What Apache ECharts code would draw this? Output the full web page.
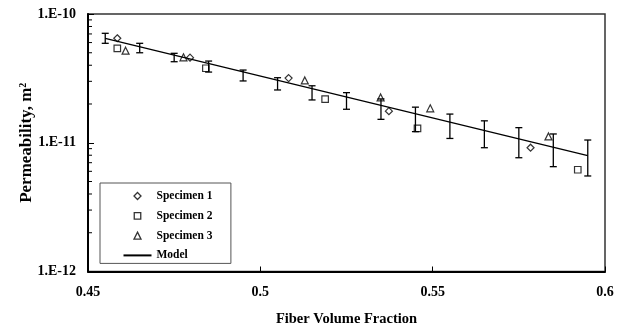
<!DOCTYPE html>
<html><head><meta charset="utf-8">
<script src="https://cdn.jsdelivr.net/npm/echarts@6/dist/echarts.min.js"></script>
<style>html,body{margin:0;padding:0;background:#fff}#c{width:629px;height:332px}</style>
</head><body><div id="c"></div>
<script>
// ---- data ----
const xTickLabels = ['0.45', '0.5', '0.55', '0.6'];
const yTickLabels = ['1.E-12', '1.E-11', '1.E-10'];
const yMinorTicks = [2e-12, 3e-12, 4e-12, 5e-12, 6e-12, 7e-12, 8e-12, 9e-12,
                     2e-11, 3e-11, 4e-11, 5e-11, 6e-11, 7e-11, 8e-11, 9e-11];

const specimen1 = [[0.4585, 6.48e-11], [0.4796, 4.58e-11], [0.5082, 3.18e-11], [0.5373, 1.76e-11], [0.5784, 9.15e-12]];
const specimen2 = [[0.4585, 5.41e-11], [0.4842, 3.79e-11], [0.5188, 2.18e-11], [0.5456, 1.295e-11], [0.5921, 6.17e-12]];
const specimen3 = [[0.4609, 5.19e-11], [0.4777, 4.61e-11], [0.5129, 3.05e-11], [0.5349, 2.25e-11], [0.5493, 1.85e-11], [0.5836, 1.12e-11]];
const modelLine = [[0.455, 6.48e-11], [0.595, 7.93e-12]];

const errX    = [0.455, 0.465, 0.475, 0.485, 0.495, 0.505, 0.515, 0.525, 0.535, 0.545, 0.555, 0.565, 0.575, 0.585, 0.595];
const errHigh = [7.08e-11, 5.92e-11, 4.95e-11, 4.31e-11, 3.67e-11, 3.20e-11, 2.77e-11, 2.45e-11, 2.19e-11, 1.89e-11, 1.67e-11, 1.48e-11, 1.31e-11, 1.17e-11, 1.05e-11];
const errLow  = [5.92e-11, 5.00e-11, 4.26e-11, 3.54e-11, 3.02e-11, 2.57e-11, 2.15e-11, 1.82e-11, 1.52e-11, 1.22e-11, 1.08e-11, 9.15e-12, 7.65e-12, 6.52e-12, 5.52e-12];

// ---- chart ----
const FONT = 'Liberation Serif';
const chart = echarts.init(document.getElementById('c'), null, {renderer: 'canvas'});
const errData = errX.map((x, i) => [x, errLow[i], errHigh[i]]);
const minorData = yMinorTicks.map(v => [0.45, v]);

const markerStyle = {color: 'transparent', borderColor: '#000', borderWidth: 1.2};

// legend icons: small marker centred in a 28x7 box (the leading moves fix the box)
const ICON_BOX = 'M0,0 M28,7 ';
const iconDiamond = 'path://' + ICON_BOX + 'M14,0 L17.5,3.5 L14,7 L10.5,3.5 Z';
const iconSquare = 'path://' + ICON_BOX + 'M10.75,0.25 L17.25,0.25 L17.25,6.75 L10.75,6.75 Z';
const iconTriangle = 'path://' + ICON_BOX + 'M14,0 L17.5,7 L10.5,7 Z';

chart.setOption({
  animation: false,
  backgroundColor: '#fff',
  grid: {left: 88, right: 24, top: 14, bottom: 60.5, show: true, borderColor: '#333', borderWidth: 1.5},
  legend: {
    orient: 'vertical', left: 100, top: 183,
    data: [
      {name: 'Specimen 1', icon: iconDiamond},
      {name: 'Specimen 2', icon: iconSquare},
      {name: 'Specimen 3', icon: iconTriangle},
      {name: 'Model', itemStyle: {color: 'transparent', borderColor: 'transparent', borderWidth: 0}}
    ],
    itemWidth: 28, itemHeight: 7, itemGap: 7.8,
    padding: [7, 18.5, 2, 22.5],
    borderColor: '#555', borderWidth: 1,
    selectedMode: false,
    itemStyle: {borderWidth: 1.3},
    textStyle: {fontFamily: FONT, fontWeight: 'bold', fontSize: 11.5, color: '#000'}
  },
  xAxis: {
    type: 'value', min: 0.45, max: 0.6, interval: 0.05,
    name: 'Fiber Volume Fraction', nameLocation: 'middle', nameGap: 40,
    nameTextStyle: {fontFamily: FONT, fontWeight: 'bold', fontSize: 14.5, color: '#000'},
    axisLine: {lineStyle: {color: '#000', width: 2}},
    axisTick: {inside: true, length: 5, lineStyle: {color: '#000', width: 1}},
    splitLine: {show: false},
    axisLabel: {
      margin: 14, fontFamily: FONT, fontWeight: 'bold', fontSize: 14, color: '#000',
      formatter: v => xTickLabels[Math.round((v - 0.45) / 0.05)]
    }
  },
  yAxis: {
    type: 'log', logBase: 10, min: 1e-12, max: 1e-10,
    name: '{a|Permeability, m}{s|2}', nameLocation: 'middle', nameGap: 53, nameRotate: 90,
    nameMoveOverlap: false,
    nameTextStyle: {
      fontFamily: FONT, fontWeight: 'bold', fontSize: 17, color: '#000',
      rich: {
        a: {fontFamily: FONT, fontWeight: 'bold', fontSize: 17, color: '#000'},
        s: {fontFamily: FONT, fontWeight: 'bold', fontSize: 10, color: '#000', verticalAlign: 'top', padding: [0, 0, 6, 0]}
      }
    },
    axisLine: {show: true, lineStyle: {color: '#000', width: 2}},
    axisTick: {show: true, inside: true, length: 6, lineStyle: {color: '#000', width: 1}},
    splitLine: {show: false},
    axisLabel: {
      margin: 12, fontFamily: FONT, fontWeight: 'bold', fontSize: 14, color: '#000',
      formatter: v => yTickLabels[Math.round(Math.log10(v)) + 12]
    }
  },
  series: [
    {
      name: 'minorTicks', type: 'custom', data: minorData, clip: false, silent: true,
      encode: {x: 0, y: 1},
      renderItem: (params, api) => {
        const p = api.coord([api.value(0), api.value(1)]);
        return {type: 'line', shape: {x1: p[0], y1: p[1], x2: p[0] + 4, y2: p[1]},
                style: {stroke: '#000', lineWidth: 1}};
      }
    },
    {
      name: 'Model', type: 'line', data: modelLine, symbol: 'none',
      lineStyle: {color: '#000', width: 1.3}, itemStyle: {color: '#000'}, z: 3
    },
    {
      name: 'errors', type: 'custom', data: errData, clip: false, z: 4,
      encode: {x: 0, y: [1, 2]},
      renderItem: (params, api) => {
        const x = api.value(0);
        const a = api.coord([x, api.value(1)]);
        const b = api.coord([x, api.value(2)]);
        const hw = 3.5, st = {stroke: '#000', lineWidth: 1.3};
        return {type: 'group', children: [
          {type: 'line', shape: {x1: a[0], y1: a[1], x2: b[0], y2: b[1]}, style: st},
          {type: 'line', shape: {x1: a[0] - hw, y1: a[1], x2: a[0] + hw, y2: a[1]}, style: st},
          {type: 'line', shape: {x1: b[0] - hw, y1: b[1], x2: b[0] + hw, y2: b[1]}, style: st}
        ]};
      }
    },
    {name: 'Specimen 1', type: 'scatter', data: specimen1, symbol: 'diamond', symbolSize: 7, itemStyle: markerStyle, z: 5},
    {name: 'Specimen 2', type: 'scatter', data: specimen2, symbol: 'rect', symbolSize: 6.5, itemStyle: markerStyle, z: 5},
    {name: 'Specimen 3', type: 'scatter', data: specimen3, symbol: 'triangle', symbolSize: 7, itemStyle: markerStyle, z: 5}
  ]
});
</script></body></html>
